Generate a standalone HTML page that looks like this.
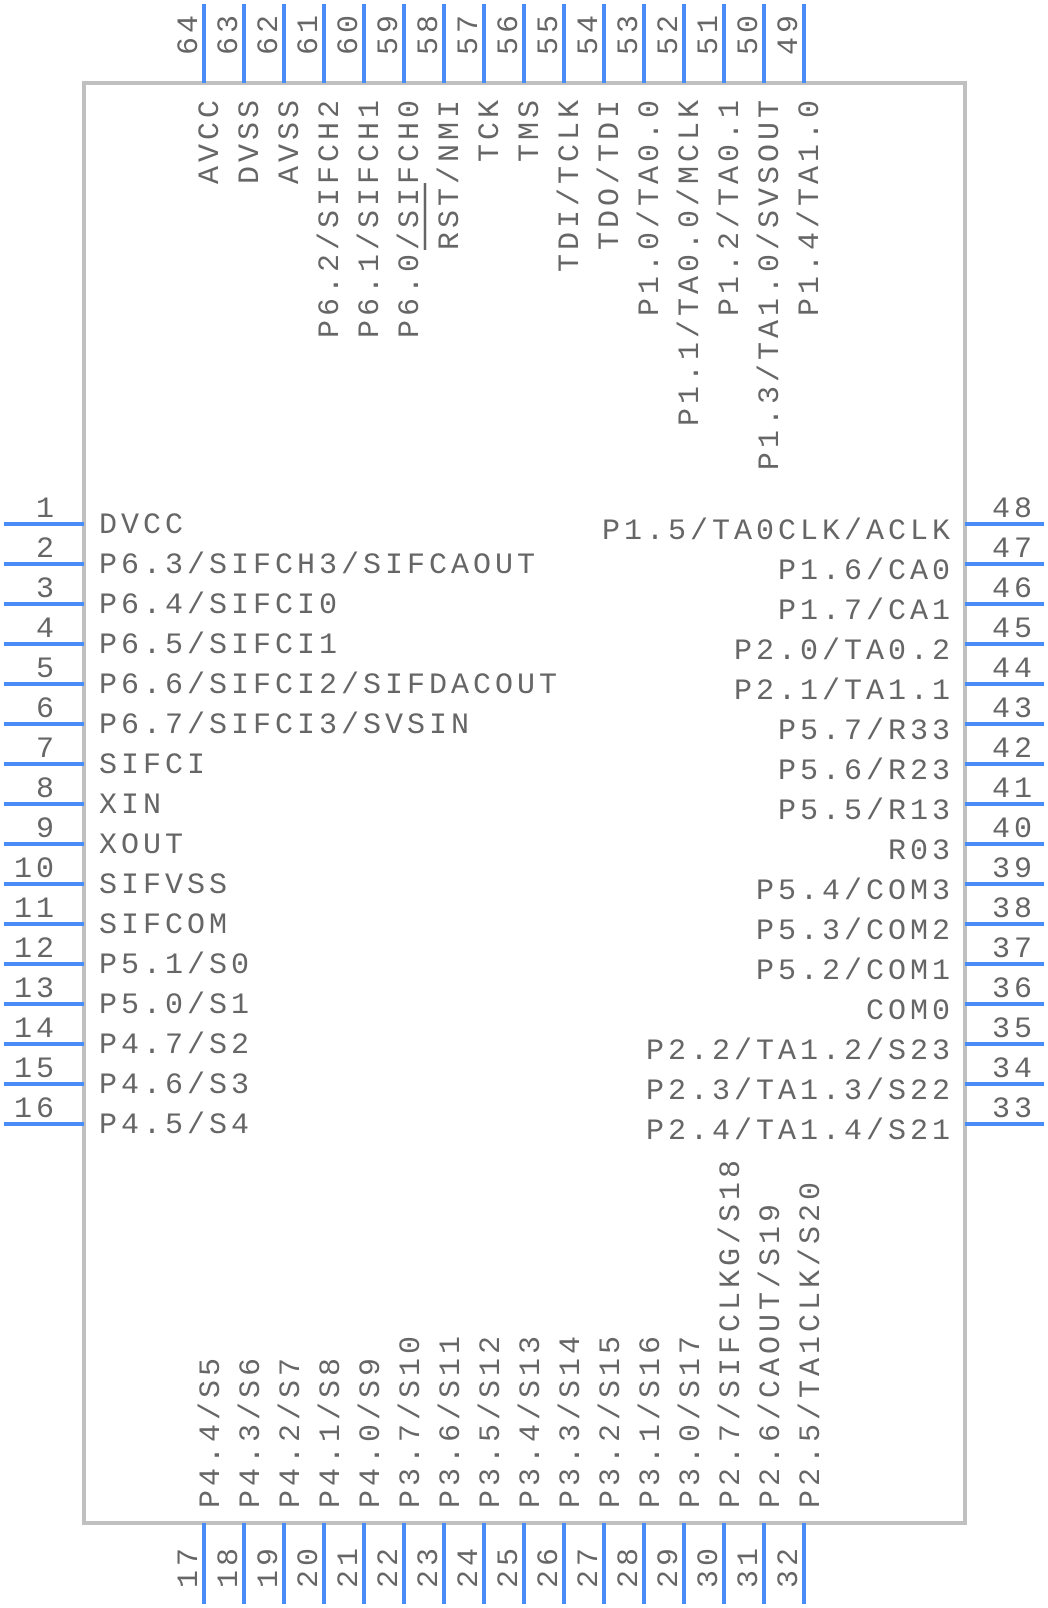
<!DOCTYPE html>
<html><head><meta charset="utf-8"><style>
html,body{margin:0;padding:0;background:#fff;}
svg{display:block;}
text{font-family:"Liberation Mono",monospace;font-size:30px;fill:#666;letter-spacing:4px;}
</style></head><body>
<svg id="s" width="1048" height="1608" xmlns="http://www.w3.org/2000/svg">
<rect x="84" y="83" width="881" height="1440" fill="none" stroke="#c0c0c0" stroke-width="4"/>
<g id="g"></g>
<line x1="425" y1="183" x2="425" y2="250" stroke="#666" stroke-width="2.5"/>
</svg>
<script>
var g=document.getElementById('g'),h='';
var L=["DVCC","P6.3/SIFCH3/SIFCAOUT","P6.4/SIFCI0","P6.5/SIFCI1","P6.6/SIFCI2/SIFDACOUT","P6.7/SIFCI3/SVSIN","SIFCI","XIN","XOUT","SIFVSS","SIFCOM","P5.1/S0","P5.0/S1","P4.7/S2","P4.6/S3","P4.5/S4"];
var R=["P1.5/TA0CLK/ACLK","P1.6/CA0","P1.7/CA1","P2.0/TA0.2","P2.1/TA1.1","P5.7/R33","P5.6/R23","P5.5/R13","R03","P5.4/COM3","P5.3/COM2","P5.2/COM1","COM0","P2.2/TA1.2/S23","P2.3/TA1.3/S22","P2.4/TA1.4/S21"];
var T=["AVCC","DVSS","AVSS","P6.2/SIFCH2","P6.1/SIFCH1","P6.0/SIFCH0","RST/NMI","TCK","TMS","TDI/TCLK","TDO/TDI","P1.0/TA0.0","P1.1/TA0.0/MCLK","P1.2/TA0.1","P1.3/TA1.0/SVSOUT","P1.4/TA1.0"];
var B=["P4.4/S5","P4.3/S6","P4.2/S7","P4.1/S8","P4.0/S9","P3.7/S10","P3.6/S11","P3.5/S12","P3.4/S13","P3.3/S14","P3.2/S15","P3.1/S16","P3.0/S17","P2.7/SIFCLKG/S18","P2.6/CAOUT/S19","P2.5/TA1CLK/S20"];
var C='#4a8cf7';
for(var i=0;i<16;i++){
 var y=524+40*i,x=204+40*i;
 h+='<line x1="4" y1="'+y+'" x2="84" y2="'+y+'" stroke="'+C+'" stroke-width="4"/>';
 h+='<text x="58" y="'+(y-7)+'" text-anchor="end">'+(i+1)+'</text>';
 h+='<text x="99" y="'+(y+9)+'">'+L[i]+'</text>';
 h+='<line x1="965" y1="'+y+'" x2="1044" y2="'+y+'" stroke="'+C+'" stroke-width="4"/>';
 h+='<text x="992" y="'+(y-7)+'">'+(48-i)+'</text>';
 h+='<text x="954" y="'+(y+15)+'" text-anchor="end">'+R[i]+'</text>';
 h+='<line x1="'+x+'" y1="4" x2="'+x+'" y2="83" stroke="'+C+'" stroke-width="4"/>';
 h+='<text transform="translate('+(x-7)+',55) rotate(-90)">'+(64-i)+'</text>';
 h+='<text transform="translate('+(x+14)+',96) rotate(-90)" text-anchor="end">'+T[i]+'</text>';
 h+='<line x1="'+x+'" y1="1523" x2="'+x+'" y2="1604" stroke="'+C+'" stroke-width="4"/>';
 h+='<text transform="translate('+(x-7)+',1588) rotate(-90)">'+(17+i)+'</text>';
 h+='<text transform="translate('+(x+15)+',1508) rotate(-90)">'+B[i]+'</text>';
}
g.innerHTML=h;
</script>
</body></html>
